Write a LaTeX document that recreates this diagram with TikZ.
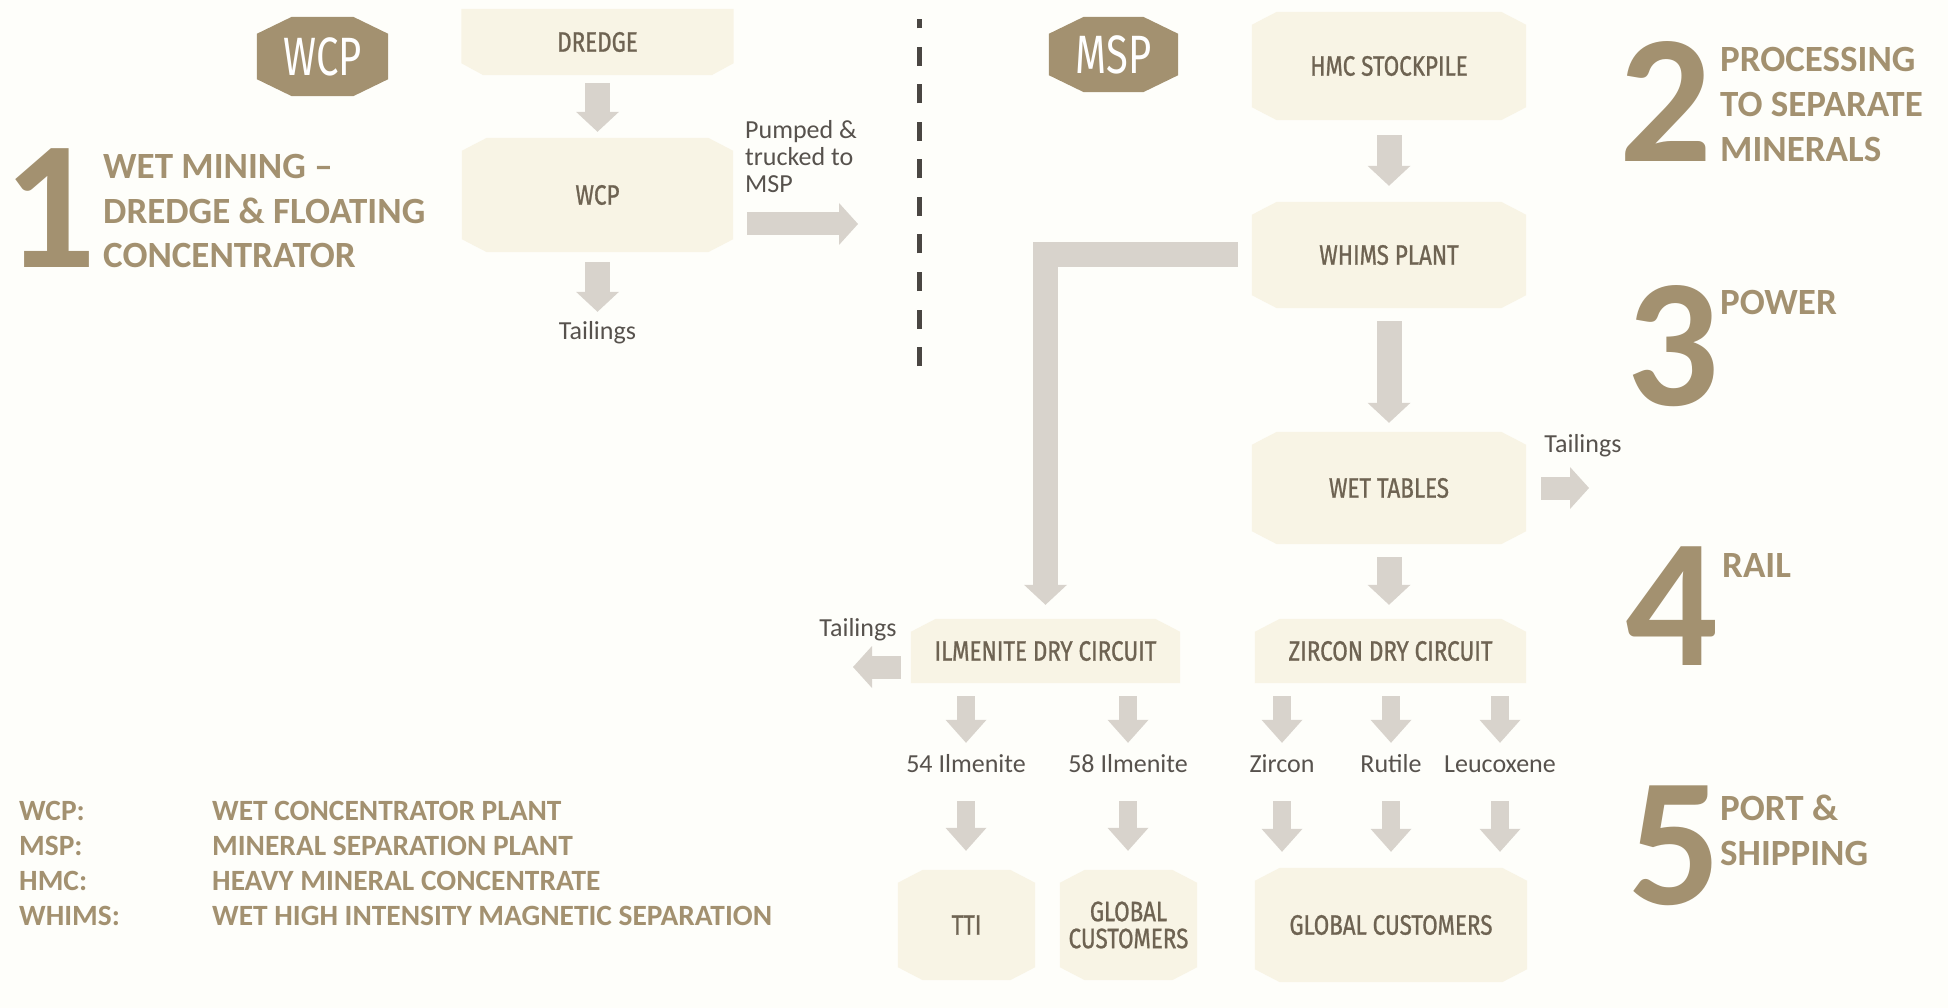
\documentclass[tikz,border=0pt]{standalone}
\usepackage{fontspec}
\setmainfont{Carlito}
\newfontfamily\boxfont[FakeStretch=0.8,FakeBold=0.9]{Fira Sans}
\newfontfamily\badgefont[FakeStretch=0.74]{Fira Sans}
\usetikzlibrary{arrows.meta,calc}
\pgfdeclarelayer{bg}
\pgfsetlayers{bg,main}
\definecolor{bgcol}{HTML}{FEFEFA}
\definecolor{boxfill}{HTML}{F8F4E5}
\definecolor{arrcol}{HTML}{D8D3CC}
\definecolor{boxtxt}{HTML}{6E6352}
\definecolor{lbltxt}{HTML}{57524D}
\definecolor{brand}{HTML}{A39170}
\definecolor{dashcol}{HTML}{4A4642}
% chamfered fill behind a node: [colour]{name}{top dx}{top dy}{bottom dx}{bottom dy}
\newcommand\chbox[6][boxfill]{%
  \fill[#1] ([yshift=-#4pt]#2.north west) -- ([xshift=#3pt]#2.north west)
    -- ([xshift=-#3pt]#2.north east) -- ([yshift=-#4pt]#2.north east)
    -- ([yshift=#6pt]#2.south east) -- ([xshift=-#5pt]#2.south east)
    -- ([xshift=#5pt]#2.south west) -- ([yshift=#6pt]#2.south west) -- cycle;}
\tikzset{
  flowbox/.style={inner sep=0pt, text=boxtxt, align=center, font=\boxfont\fontsize{28}{27}\selectfont},
  badge/.style={inner sep=0pt, text=white, font=\badgefont\fontsize{54}{54}\selectfont},
  lbl/.style={inner sep=0pt, text=lbltxt, font=\fontsize{26}{27}\selectfont, text height=18pt, text depth=0pt},
  plain/.style={inner sep=0pt, text=lbltxt, font=\fontsize{26}{27}\selectfont, anchor=base west},
  head/.style={inner sep=0pt, text=brand, font=\bfseries\fontsize{37}{44}\selectfont, anchor=base west},
  bignum/.style={inner sep=0pt, text=brand, font=\bfseries\fontsize{183}{183}\selectfont, anchor=base},
  legend/.style={inner sep=0pt, text=brand, font=\bfseries\fontsize{29.4}{35}\selectfont, anchor=base west},
  mainarr/.style={draw=arrcol, line width=25pt, -{Triangle[length=20pt,width=43pt,line width=0pt]}},
  rowarr/.style={draw=arrcol, line width=18pt, -{Triangle[length=23pt,width=41pt,line width=0pt]}},
  sidearr/.style={draw=arrcol, line width=23pt, -{Triangle[length=19pt,width=42pt,line width=0pt]}},
}
\begin{document}
\begin{tikzpicture}[x=1pt,y=-1pt]
\useasboundingbox (0,0) rectangle (1948,1008);

% badges
\node[badge, minimum width=131pt, minimum height=79pt] (wcpbadge) at (322.5,56.5) {WCP};
\node[badge, minimum width=129pt, minimum height=75pt] (mspbadge) at (1113.5,54.5) {MSP};

% WCP side
\node[flowbox, minimum width=272pt, minimum height=66pt] (dredge) at (597.5,42) {DREDGE};
\node[flowbox, minimum width=271pt, minimum height=114pt] (wcp) at (597.5,195) {WCP};
\node[lbl] (tail1) at (597.5,330) {Tailings};
\node[plain] (pump1) at (745,139) {Pumped \&};
\node[plain] (pump2) at (745,166) {trucked to};
\node[plain] (pump3) at (745,193) {MSP};

% MSP side
\node[flowbox, minimum width=274pt, minimum height=108pt] (hmc) at (1389,66) {HMC STOCKPILE};
\node[flowbox, minimum width=274pt, minimum height=106pt] (whims) at (1389,255) {WHIMS PLANT};
\node[flowbox, minimum width=274pt, minimum height=112pt] (wet) at (1389,488) {WET TABLES};
\node[flowbox, minimum width=269pt, minimum height=64pt] (ilm) at (1045.5,651) {ILMENITE DRY CIRCUIT};
\node[flowbox, minimum width=271pt, minimum height=64pt] (zir) at (1390.5,651) {ZIRCON DRY CIRCUIT};
\node[lbl] (tailR) at (1583,443) {Tailings};
\node[lbl] (tailL) at (858,627) {Tailings};
\node[lbl] (l54) at (966,763) {54 Ilmenite};
\node[lbl] (l58) at (1128,763) {58 Ilmenite};
\node[lbl] (lzr) at (1282,763) {Zircon};
\node[lbl] (lru) at (1391,763) {Rutile};
\node[lbl] (lle) at (1500,763) {Leucoxene};
\node[flowbox, minimum width=137pt, minimum height=110pt] (tti) at (966.5,925) {TTI};
\node[flowbox, minimum width=137pt, minimum height=110pt] (glob1) at (1128.5,925) {GLOBAL\\CUSTOMERS};
\node[flowbox, minimum width=272pt, minimum height=114pt] (glob2) at (1391,925) {GLOBAL CUSTOMERS};

% headings
\node[bignum] (n1) at (50,268) {1};
\node[head] (h1a) at (103,179) {WET MINING –};
\node[head] (h1b) at (103,223.5) {DREDGE \& FLOATING};
\node[head] (h1c) at (103,268) {CONCENTRATOR};
\node[bignum] (n2) at (1666,162) {2};
\node[head] (h2a) at (1720,72) {PROCESSING};
\node[head] (h2b) at (1720,117) {TO SEPARATE};
\node[head] (h2c) at (1720,162) {MINERALS};
\node[bignum] (n3) at (1673,405) {3};
\node[head] (h3) at (1720,314) {POWER};
\node[bignum] (n4) at (1672,665) {4};
\node[head] (h4) at (1722,577) {RAIL};
\node[bignum] (n5) at (1675,904) {5};
\node[head] (h5a) at (1720,820) {PORT \&};
\node[head] (h5b) at (1720,865) {SHIPPING};

% legend
\node[legend] (k1) at (19,820) {WCP:};
\node[legend] (v1) at (212,820) {WET CONCENTRATOR PLANT};
\node[legend] (k2) at (19,855) {MSP:};
\node[legend] (v2) at (212,855) {MINERAL SEPARATION PLANT};
\node[legend] (k3) at (19,890) {HMC:};
\node[legend] (v3) at (212,890) {HEAVY MINERAL CONCENTRATE};
\node[legend] (k4) at (19,925) {WHIMS:};
\node[legend] (v4) at (212,925) {WET HIGH INTENSITY MAGNETIC SEPARATION};

% dashed divider
\coordinate (dtop) at (919,19);
\coordinate (dbot) at (919,366);
\draw[dashcol, line width=5pt, dash pattern=on 19pt off 18.5pt] (dbot) -- (dtop);

% connectors
\draw[mainarr, shorten <=8pt, shorten >=6pt] (dredge) -- (wcp);
\draw[mainarr, shorten <=10pt, shorten >=9pt] (wcp) -- (tail1);
\coordinate (pumptip) at (858,224);
\draw[sidearr, shorten <=14pt] (wcp.east |- pumptip) -- (pumptip);
\draw[mainarr, shorten <=15pt, shorten >=16pt] (hmc) -- (whims);
\draw[mainarr, shorten <=14pt, shorten >=14pt] (whims.west) -| (ilm.north);
\draw[mainarr, shorten <=13pt, shorten >=9pt] (whims) -- (wet);
\coordinate (tailRtip) at (1589,488);
\draw[sidearr, shorten <=15pt] (wet.east) -- (tailRtip);
\draw[mainarr, shorten <=13pt, shorten >=14pt] (wet.south) -- (wet.south |- zir.north);
\coordinate (tailLtip) at (853,667);
\draw[sidearr, shorten <=10pt] (ilm.west |- tailLtip) -- (tailLtip);
\foreach \nm in {l54,l58}{\draw[rowarr, shorten <=13pt, shorten >=11pt] (ilm.south -| \nm) -- (\nm);}
\foreach \nm in {lzr,lru,lle}{\draw[rowarr, shorten <=13pt, shorten >=11pt] (zir.south -| \nm) -- (\nm);}
\draw[rowarr, shorten <=29pt, shorten >=19pt] (l54) -- (tti.north -| l54);
\draw[rowarr, shorten <=29pt, shorten >=19pt] (l58) -- (glob1.north -| l58);
\foreach \nm in {lzr,lru,lle}{\draw[rowarr, shorten <=29pt, shorten >=16pt] (\nm) -- (glob2.north -| \nm);}

% background shapes
\begin{pgfonlayer}{bg}
\fill[bgcol] (0,0) rectangle (1948,1008);
\chbox[brand]{wcpbadge}{35}{17}{35}{17}
\chbox[brand]{mspbadge}{35}{17}{35}{17}
\chbox{dredge}{0}{0}{22}{12}
\chbox{wcp}{25}{13}{25}{13}
\chbox{hmc}{25}{13}{25}{13}
\chbox{whims}{25}{13}{25}{13}
\chbox{wet}{25}{13}{25}{13}
\chbox{ilm}{25}{13}{0}{0}
\chbox{zir}{25}{13}{0}{0}
\chbox{tti}{25}{13}{25}{13}
\chbox{glob1}{25}{13}{25}{13}
\chbox{glob2}{25}{13}{25}{13}
\end{pgfonlayer}
\end{tikzpicture}
\end{document}
